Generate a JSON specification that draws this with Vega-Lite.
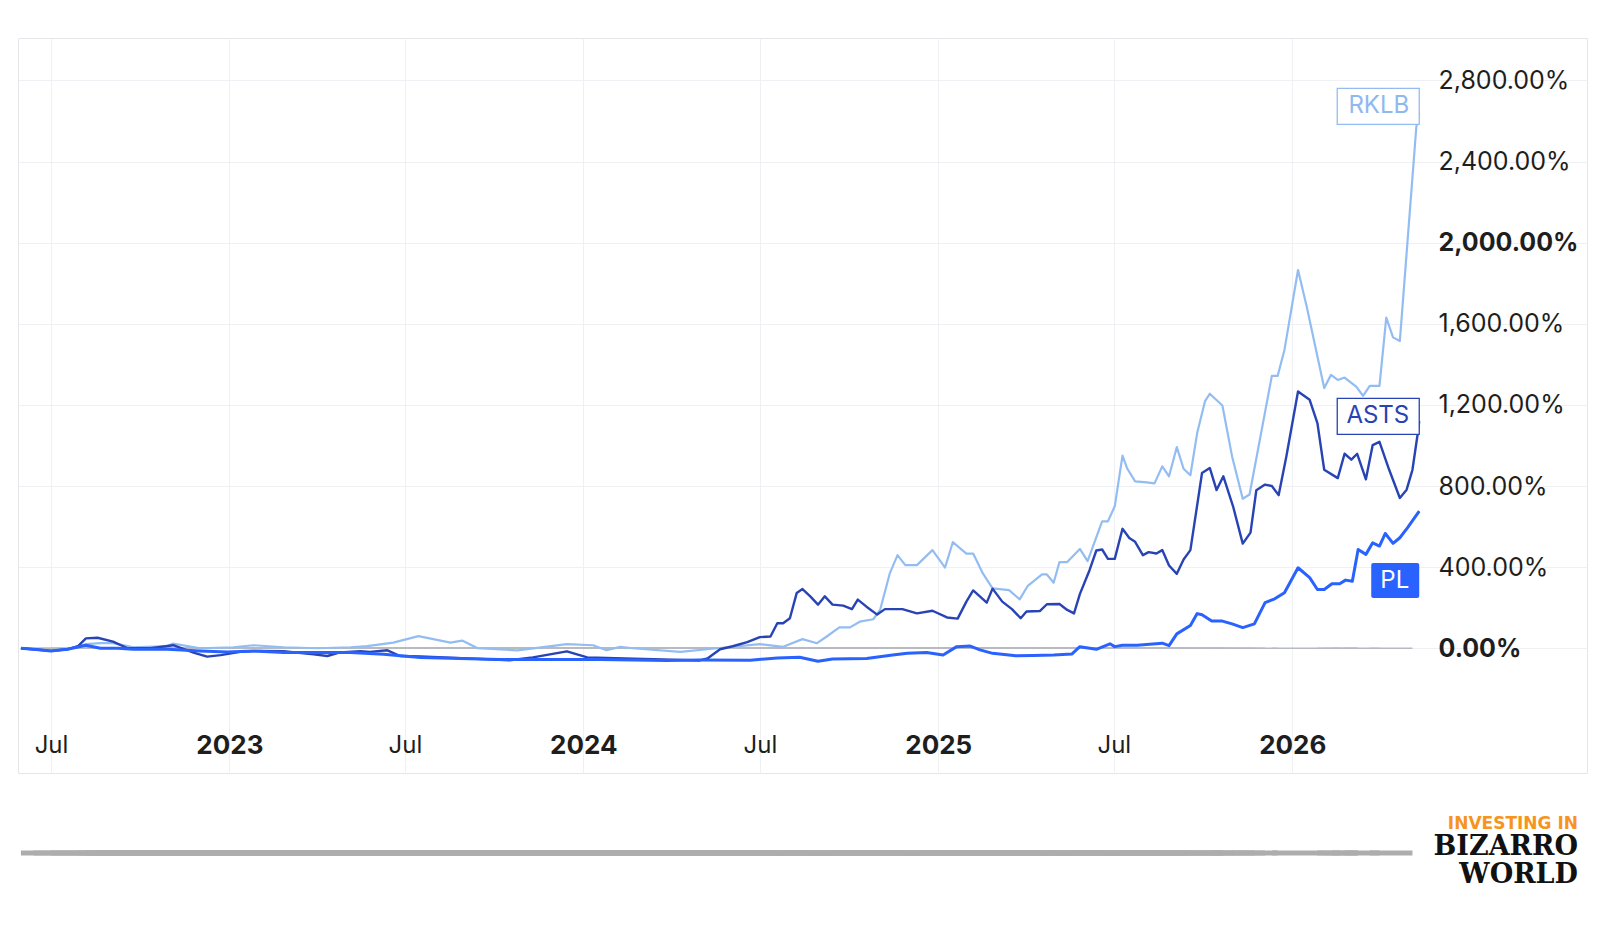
{
  "$schema": "https://vega.github.io/schema/vega-lite/v6.json",
  "width": 1569,
  "height": 735,
  "autosize": {"type": "none"},
  "padding": {"left": 18, "top": 38, "right": 21, "bottom": 163},
  "background": "white",
  "config": {
    "view": {"stroke": "#e4e6ea", "strokeWidth": 1},
    "font": "Inter"
  },
  "title": {
    "text": "INVESTING IN",
    "subtitle": ["BIZARRO", "WORLD"],
    "orient": "bottom",
    "anchor": "end",
    "frame": "group",
    "offset": -39,
    "dx": -9,
    "font": "DejaVu Sans",
    "fontSize": 17,
    "fontWeight": "bold",
    "color": "#f7941d",
    "subtitleFont": "DejaVu Serif",
    "subtitleFontSize": 27,
    "subtitleFontWeight": "bold",
    "subtitleColor": "#111111",
    "subtitleLineHeight": 28,
    "subtitlePadding": 1
  },
  "datasets": {
    "series": [
      {"d": "2022-05-31", "s": "RKLB", "v": 0},
      {"d": "2022-06-13", "s": "RKLB", "v": -5},
      {"d": "2022-07-01", "s": "RKLB", "v": -13},
      {"d": "2022-07-18", "s": "RKLB", "v": -5},
      {"d": "2022-07-29", "s": "RKLB", "v": 11},
      {"d": "2022-08-06", "s": "RKLB", "v": 20},
      {"d": "2022-08-21", "s": "RKLB", "v": 25},
      {"d": "2022-09-03", "s": "RKLB", "v": 25},
      {"d": "2022-09-24", "s": "RKLB", "v": 5},
      {"d": "2022-10-29", "s": "RKLB", "v": 11},
      {"d": "2022-11-04", "s": "RKLB", "v": 23},
      {"d": "2022-12-02", "s": "RKLB", "v": 0},
      {"d": "2023-01-05", "s": "RKLB", "v": 5},
      {"d": "2023-01-26", "s": "RKLB", "v": 15},
      {"d": "2023-02-26", "s": "RKLB", "v": 5},
      {"d": "2023-04-02", "s": "RKLB", "v": 0},
      {"d": "2023-05-06", "s": "RKLB", "v": 5},
      {"d": "2023-05-23", "s": "RKLB", "v": 11},
      {"d": "2023-06-19", "s": "RKLB", "v": 28},
      {"d": "2023-07-03", "s": "RKLB", "v": 45},
      {"d": "2023-07-15", "s": "RKLB", "v": 60},
      {"d": "2023-08-17", "s": "RKLB", "v": 28},
      {"d": "2023-08-29", "s": "RKLB", "v": 38},
      {"d": "2023-09-14", "s": "RKLB", "v": 0},
      {"d": "2023-10-25", "s": "RKLB", "v": -10},
      {"d": "2023-12-15", "s": "RKLB", "v": 20},
      {"d": "2024-01-11", "s": "RKLB", "v": 15},
      {"d": "2024-01-25", "s": "RKLB", "v": -10},
      {"d": "2024-02-08", "s": "RKLB", "v": 7},
      {"d": "2024-02-21", "s": "RKLB", "v": 0},
      {"d": "2024-04-10", "s": "RKLB", "v": -18},
      {"d": "2024-05-18", "s": "RKLB", "v": 0},
      {"d": "2024-07-01", "s": "RKLB", "v": 20},
      {"d": "2024-07-25", "s": "RKLB", "v": 7},
      {"d": "2024-08-14", "s": "RKLB", "v": 45},
      {"d": "2024-08-29", "s": "RKLB", "v": 25},
      {"d": "2024-09-08", "s": "RKLB", "v": 58},
      {"d": "2024-09-21", "s": "RKLB", "v": 103},
      {"d": "2024-10-02", "s": "RKLB", "v": 103},
      {"d": "2024-10-12", "s": "RKLB", "v": 131},
      {"d": "2024-10-26", "s": "RKLB", "v": 143},
      {"d": "2024-11-02", "s": "RKLB", "v": 189},
      {"d": "2024-11-12", "s": "RKLB", "v": 369},
      {"d": "2024-11-20", "s": "RKLB", "v": 459},
      {"d": "2024-11-28", "s": "RKLB", "v": 410},
      {"d": "2024-12-10", "s": "RKLB", "v": 410},
      {"d": "2024-12-26", "s": "RKLB", "v": 484},
      {"d": "2025-01-08", "s": "RKLB", "v": 398},
      {"d": "2025-01-16", "s": "RKLB", "v": 523},
      {"d": "2025-01-30", "s": "RKLB", "v": 467},
      {"d": "2025-02-06", "s": "RKLB", "v": 467},
      {"d": "2025-02-16", "s": "RKLB", "v": 369},
      {"d": "2025-02-26", "s": "RKLB", "v": 295},
      {"d": "2025-03-15", "s": "RKLB", "v": 287},
      {"d": "2025-03-26", "s": "RKLB", "v": 241},
      {"d": "2025-04-03", "s": "RKLB", "v": 306},
      {"d": "2025-04-18", "s": "RKLB", "v": 364},
      {"d": "2025-04-23", "s": "RKLB", "v": 364},
      {"d": "2025-04-30", "s": "RKLB", "v": 323},
      {"d": "2025-05-06", "s": "RKLB", "v": 425},
      {"d": "2025-05-14", "s": "RKLB", "v": 425},
      {"d": "2025-05-27", "s": "RKLB", "v": 490},
      {"d": "2025-06-04", "s": "RKLB", "v": 430},
      {"d": "2025-06-19", "s": "RKLB", "v": 626},
      {"d": "2025-06-25", "s": "RKLB", "v": 626},
      {"d": "2025-07-02", "s": "RKLB", "v": 700},
      {"d": "2025-07-10", "s": "RKLB", "v": 950},
      {"d": "2025-07-15", "s": "RKLB", "v": 885},
      {"d": "2025-07-23", "s": "RKLB", "v": 823},
      {"d": "2025-08-04", "s": "RKLB", "v": 818},
      {"d": "2025-08-12", "s": "RKLB", "v": 813},
      {"d": "2025-08-20", "s": "RKLB", "v": 897},
      {"d": "2025-08-27", "s": "RKLB", "v": 848},
      {"d": "2025-09-04", "s": "RKLB", "v": 992},
      {"d": "2025-09-11", "s": "RKLB", "v": 885},
      {"d": "2025-09-18", "s": "RKLB", "v": 853},
      {"d": "2025-09-25", "s": "RKLB", "v": 1061},
      {"d": "2025-10-03", "s": "RKLB", "v": 1217},
      {"d": "2025-10-08", "s": "RKLB", "v": 1255},
      {"d": "2025-10-21", "s": "RKLB", "v": 1197},
      {"d": "2025-10-31", "s": "RKLB", "v": 946},
      {"d": "2025-11-11", "s": "RKLB", "v": 737},
      {"d": "2025-11-18", "s": "RKLB", "v": 758},
      {"d": "2025-11-28", "s": "RKLB", "v": 1012},
      {"d": "2025-12-11", "s": "RKLB", "v": 1343},
      {"d": "2025-12-17", "s": "RKLB", "v": 1343},
      {"d": "2025-12-24", "s": "RKLB", "v": 1471},
      {"d": "2026-01-07", "s": "RKLB", "v": 1865},
      {"d": "2026-01-16", "s": "RKLB", "v": 1684},
      {"d": "2026-02-03", "s": "RKLB", "v": 1283},
      {"d": "2026-02-10", "s": "RKLB", "v": 1348},
      {"d": "2026-02-17", "s": "RKLB", "v": 1323},
      {"d": "2026-02-24", "s": "RKLB", "v": 1335},
      {"d": "2026-03-08", "s": "RKLB", "v": 1290},
      {"d": "2026-03-15", "s": "RKLB", "v": 1245},
      {"d": "2026-03-22", "s": "RKLB", "v": 1294},
      {"d": "2026-04-01", "s": "RKLB", "v": 1294},
      {"d": "2026-04-08", "s": "RKLB", "v": 1630},
      {"d": "2026-04-15", "s": "RKLB", "v": 1533},
      {"d": "2026-04-22", "s": "RKLB", "v": 1515},
      {"d": "2026-05-09", "s": "RKLB", "v": 2570},
      {"d": "2026-05-12", "s": "RKLB", "v": 2640},

      {"d": "2022-05-31", "s": "ASTS", "v": 0},
      {"d": "2022-06-13", "s": "ASTS", "v": -5},
      {"d": "2022-07-01", "s": "ASTS", "v": -13},
      {"d": "2022-07-18", "s": "ASTS", "v": -5},
      {"d": "2022-07-29", "s": "ASTS", "v": 11},
      {"d": "2022-08-06", "s": "ASTS", "v": 49},
      {"d": "2022-08-18", "s": "ASTS", "v": 52},
      {"d": "2022-09-03", "s": "ASTS", "v": 33},
      {"d": "2022-09-18", "s": "ASTS", "v": 0},
      {"d": "2022-10-12", "s": "ASTS", "v": 0},
      {"d": "2022-11-04", "s": "ASTS", "v": 15},
      {"d": "2022-11-25", "s": "ASTS", "v": -21},
      {"d": "2022-12-09", "s": "ASTS", "v": -41},
      {"d": "2022-12-23", "s": "ASTS", "v": -34},
      {"d": "2023-01-12", "s": "ASTS", "v": -18},
      {"d": "2023-02-02", "s": "ASTS", "v": -13},
      {"d": "2023-02-26", "s": "ASTS", "v": -15},
      {"d": "2023-03-29", "s": "ASTS", "v": -30},
      {"d": "2023-04-12", "s": "ASTS", "v": -38},
      {"d": "2023-04-25", "s": "ASTS", "v": -20},
      {"d": "2023-05-16", "s": "ASTS", "v": -15},
      {"d": "2023-05-26", "s": "ASTS", "v": -18},
      {"d": "2023-06-13", "s": "ASTS", "v": -10},
      {"d": "2023-06-26", "s": "ASTS", "v": -38},
      {"d": "2023-07-17", "s": "ASTS", "v": -40},
      {"d": "2023-10-17", "s": "ASTS", "v": -59},
      {"d": "2023-11-10", "s": "ASTS", "v": -45},
      {"d": "2023-12-15", "s": "ASTS", "v": -15},
      {"d": "2024-01-05", "s": "ASTS", "v": -45},
      {"d": "2024-04-30", "s": "ASTS", "v": -60},
      {"d": "2024-05-08", "s": "ASTS", "v": -50},
      {"d": "2024-05-21", "s": "ASTS", "v": -5},
      {"d": "2024-06-03", "s": "ASTS", "v": 10},
      {"d": "2024-06-18", "s": "ASTS", "v": 30},
      {"d": "2024-07-01", "s": "ASTS", "v": 55},
      {"d": "2024-07-12", "s": "ASTS", "v": 58},
      {"d": "2024-07-19", "s": "ASTS", "v": 123},
      {"d": "2024-07-25", "s": "ASTS", "v": 123},
      {"d": "2024-08-01", "s": "ASTS", "v": 148},
      {"d": "2024-08-08", "s": "ASTS", "v": 272},
      {"d": "2024-08-14", "s": "ASTS", "v": 292},
      {"d": "2024-08-22", "s": "ASTS", "v": 256},
      {"d": "2024-08-30", "s": "ASTS", "v": 215},
      {"d": "2024-09-06", "s": "ASTS", "v": 256},
      {"d": "2024-09-14", "s": "ASTS", "v": 215},
      {"d": "2024-09-25", "s": "ASTS", "v": 210},
      {"d": "2024-10-04", "s": "ASTS", "v": 193},
      {"d": "2024-10-10", "s": "ASTS", "v": 240},
      {"d": "2024-10-19", "s": "ASTS", "v": 205},
      {"d": "2024-10-30", "s": "ASTS", "v": 166},
      {"d": "2024-11-07", "s": "ASTS", "v": 193},
      {"d": "2024-11-25", "s": "ASTS", "v": 193},
      {"d": "2024-12-10", "s": "ASTS", "v": 172},
      {"d": "2024-12-26", "s": "ASTS", "v": 185},
      {"d": "2025-01-10", "s": "ASTS", "v": 152},
      {"d": "2025-01-21", "s": "ASTS", "v": 146},
      {"d": "2025-01-30", "s": "ASTS", "v": 230},
      {"d": "2025-02-06", "s": "ASTS", "v": 285},
      {"d": "2025-02-20", "s": "ASTS", "v": 225},
      {"d": "2025-02-26", "s": "ASTS", "v": 294},
      {"d": "2025-03-08", "s": "ASTS", "v": 230},
      {"d": "2025-03-18", "s": "ASTS", "v": 193},
      {"d": "2025-03-27", "s": "ASTS", "v": 148},
      {"d": "2025-04-02", "s": "ASTS", "v": 181},
      {"d": "2025-04-16", "s": "ASTS", "v": 184},
      {"d": "2025-04-23", "s": "ASTS", "v": 217},
      {"d": "2025-05-06", "s": "ASTS", "v": 218},
      {"d": "2025-05-14", "s": "ASTS", "v": 189},
      {"d": "2025-05-21", "s": "ASTS", "v": 172},
      {"d": "2025-05-27", "s": "ASTS", "v": 267},
      {"d": "2025-06-06", "s": "ASTS", "v": 385},
      {"d": "2025-06-13", "s": "ASTS", "v": 482},
      {"d": "2025-06-19", "s": "ASTS", "v": 487},
      {"d": "2025-06-25", "s": "ASTS", "v": 441},
      {"d": "2025-07-02", "s": "ASTS", "v": 441},
      {"d": "2025-07-10", "s": "ASTS", "v": 589},
      {"d": "2025-07-17", "s": "ASTS", "v": 544},
      {"d": "2025-07-23", "s": "ASTS", "v": 525},
      {"d": "2025-07-31", "s": "ASTS", "v": 459},
      {"d": "2025-08-06", "s": "ASTS", "v": 474},
      {"d": "2025-08-14", "s": "ASTS", "v": 467},
      {"d": "2025-08-20", "s": "ASTS", "v": 484},
      {"d": "2025-08-27", "s": "ASTS", "v": 408},
      {"d": "2025-09-04", "s": "ASTS", "v": 367},
      {"d": "2025-09-11", "s": "ASTS", "v": 438},
      {"d": "2025-09-18", "s": "ASTS", "v": 484},
      {"d": "2025-09-30", "s": "ASTS", "v": 864},
      {"d": "2025-10-08", "s": "ASTS", "v": 889},
      {"d": "2025-10-15", "s": "ASTS", "v": 780},
      {"d": "2025-10-22", "s": "ASTS", "v": 848},
      {"d": "2025-11-01", "s": "ASTS", "v": 700},
      {"d": "2025-11-11", "s": "ASTS", "v": 516},
      {"d": "2025-11-19", "s": "ASTS", "v": 570},
      {"d": "2025-11-25", "s": "ASTS", "v": 779},
      {"d": "2025-12-04", "s": "ASTS", "v": 807},
      {"d": "2025-12-11", "s": "ASTS", "v": 800},
      {"d": "2025-12-18", "s": "ASTS", "v": 755},
      {"d": "2025-12-26", "s": "ASTS", "v": 947},
      {"d": "2026-01-07", "s": "ASTS", "v": 1266},
      {"d": "2026-01-19", "s": "ASTS", "v": 1225},
      {"d": "2026-01-27", "s": "ASTS", "v": 1110},
      {"d": "2026-02-03", "s": "ASTS", "v": 880},
      {"d": "2026-02-17", "s": "ASTS", "v": 839},
      {"d": "2026-02-24", "s": "ASTS", "v": 959},
      {"d": "2026-03-03", "s": "ASTS", "v": 930},
      {"d": "2026-03-09", "s": "ASTS", "v": 959},
      {"d": "2026-03-18", "s": "ASTS", "v": 833},
      {"d": "2026-03-25", "s": "ASTS", "v": 1002},
      {"d": "2026-04-01", "s": "ASTS", "v": 1018},
      {"d": "2026-04-11", "s": "ASTS", "v": 880},
      {"d": "2026-04-22", "s": "ASTS", "v": 741},
      {"d": "2026-04-29", "s": "ASTS", "v": 782},
      {"d": "2026-05-05", "s": "ASTS", "v": 880},
      {"d": "2026-05-10", "s": "ASTS", "v": 1044},
      {"d": "2026-05-12", "s": "ASTS", "v": 1120},

      {"d": "2022-05-31", "s": "PL", "v": 0},
      {"d": "2022-06-13", "s": "PL", "v": -5},
      {"d": "2022-07-01", "s": "PL", "v": -13},
      {"d": "2022-07-18", "s": "PL", "v": -5},
      {"d": "2022-08-06", "s": "PL", "v": 15},
      {"d": "2022-08-21", "s": "PL", "v": 0},
      {"d": "2022-09-08", "s": "PL", "v": 0},
      {"d": "2022-09-24", "s": "PL", "v": -5},
      {"d": "2022-10-29", "s": "PL", "v": -5},
      {"d": "2022-12-02", "s": "PL", "v": -13},
      {"d": "2022-12-30", "s": "PL", "v": -18},
      {"d": "2023-01-26", "s": "PL", "v": -13},
      {"d": "2023-02-26", "s": "PL", "v": -21},
      {"d": "2023-05-06", "s": "PL", "v": -21},
      {"d": "2023-06-09", "s": "PL", "v": -30},
      {"d": "2023-07-17", "s": "PL", "v": -46},
      {"d": "2023-10-07", "s": "PL", "v": -55},
      {"d": "2024-01-18", "s": "PL", "v": -55},
      {"d": "2024-03-27", "s": "PL", "v": -60},
      {"d": "2024-04-30", "s": "PL", "v": -58},
      {"d": "2024-06-21", "s": "PL", "v": -59},
      {"d": "2024-07-19", "s": "PL", "v": -48},
      {"d": "2024-08-11", "s": "PL", "v": -44},
      {"d": "2024-08-30", "s": "PL", "v": -64},
      {"d": "2024-09-14", "s": "PL", "v": -53},
      {"d": "2024-10-19", "s": "PL", "v": -50},
      {"d": "2024-11-15", "s": "PL", "v": -33},
      {"d": "2024-11-30", "s": "PL", "v": -25},
      {"d": "2024-12-20", "s": "PL", "v": -21},
      {"d": "2025-01-06", "s": "PL", "v": -33},
      {"d": "2025-01-20", "s": "PL", "v": 8},
      {"d": "2025-02-03", "s": "PL", "v": 11},
      {"d": "2025-02-13", "s": "PL", "v": -8},
      {"d": "2025-02-26", "s": "PL", "v": -25},
      {"d": "2025-03-22", "s": "PL", "v": -37},
      {"d": "2025-04-09", "s": "PL", "v": -36},
      {"d": "2025-04-30", "s": "PL", "v": -33},
      {"d": "2025-05-19", "s": "PL", "v": -28},
      {"d": "2025-05-27", "s": "PL", "v": 8},
      {"d": "2025-06-13", "s": "PL", "v": -5},
      {"d": "2025-06-27", "s": "PL", "v": 22},
      {"d": "2025-07-02", "s": "PL", "v": 8},
      {"d": "2025-07-10", "s": "PL", "v": 15},
      {"d": "2025-07-25", "s": "PL", "v": 15},
      {"d": "2025-08-07", "s": "PL", "v": 20},
      {"d": "2025-08-20", "s": "PL", "v": 25},
      {"d": "2025-08-27", "s": "PL", "v": 13},
      {"d": "2025-09-04", "s": "PL", "v": 71},
      {"d": "2025-09-18", "s": "PL", "v": 112},
      {"d": "2025-09-25", "s": "PL", "v": 171},
      {"d": "2025-09-30", "s": "PL", "v": 165},
      {"d": "2025-10-10", "s": "PL", "v": 134},
      {"d": "2025-10-21", "s": "PL", "v": 134},
      {"d": "2025-10-31", "s": "PL", "v": 120},
      {"d": "2025-11-11", "s": "PL", "v": 102},
      {"d": "2025-11-23", "s": "PL", "v": 120},
      {"d": "2025-12-04", "s": "PL", "v": 225},
      {"d": "2025-12-14", "s": "PL", "v": 244},
      {"d": "2025-12-24", "s": "PL", "v": 274},
      {"d": "2026-01-07", "s": "PL", "v": 397},
      {"d": "2026-01-19", "s": "PL", "v": 348},
      {"d": "2026-01-27", "s": "PL", "v": 290},
      {"d": "2026-02-03", "s": "PL", "v": 290},
      {"d": "2026-02-11", "s": "PL", "v": 318},
      {"d": "2026-02-19", "s": "PL", "v": 318},
      {"d": "2026-02-25", "s": "PL", "v": 336},
      {"d": "2026-03-04", "s": "PL", "v": 330},
      {"d": "2026-03-10", "s": "PL", "v": 487},
      {"d": "2026-03-18", "s": "PL", "v": 463},
      {"d": "2026-03-25", "s": "PL", "v": 520},
      {"d": "2026-04-01", "s": "PL", "v": 504},
      {"d": "2026-04-07", "s": "PL", "v": 566},
      {"d": "2026-04-15", "s": "PL", "v": 517},
      {"d": "2026-04-22", "s": "PL", "v": 545},
      {"d": "2026-04-30", "s": "PL", "v": 595},
      {"d": "2026-05-12", "s": "PL", "v": 676}
    ],
    "labels": [
      {"d": "2026-05-12", "s": "RKLB", "v": 2672},
      {"d": "2026-05-12", "s": "ASTS", "v": 1143},
      {"d": "2026-05-12", "s": "PL", "v": 334}
    ]
  },
  "encoding": {
    "x": {
      "field": "d",
      "type": "temporal",
      "scale": {
        "type": "utc",
        "domain": [
          {"year": 2022, "month": 5, "date": 28, "utc": true},
          {"year": 2026, "month": 11, "date": 1, "utc": true}
        ]
      },
      "axis": {
        "title": null,
        "values": [
          {"year": 2022, "month": 7, "date": 1, "utc": true},
          {"year": 2023, "month": 1, "date": 1, "utc": true},
          {"year": 2023, "month": 7, "date": 1, "utc": true},
          {"year": 2024, "month": 1, "date": 1, "utc": true},
          {"year": 2024, "month": 7, "date": 1, "utc": true},
          {"year": 2025, "month": 1, "date": 1, "utc": true},
          {"year": 2025, "month": 7, "date": 1, "utc": true},
          {"year": 2026, "month": 1, "date": 1, "utc": true}
        ],
        "labelExpr": "utcmonth(datum.value) == 0 ? utcFormat(datum.value, '%Y') : 'Jul'",
        "labelFontWeight": {"condition": {"test": "utcmonth(datum.value) == 0", "value": "bold"}, "value": "normal"},
        "labelFontSize": {"condition": {"test": "utcmonth(datum.value) == 0", "value": 26}, "value": 24},
        "labelFont": "Inter",
        "labelColor": "#1e1e1e",
        "labelOverlap": false,
        "labelFlush": false,
        "labelBaseline": "middle",
        "labelPadding": 0,
        "ticks": false,
        "domain": false,
        "grid": true,
        "gridColor": "#eef0f3",
        "gridWidth": 1,
        "offset": -28
      }
    },
    "y": {
      "field": "v",
      "type": "quantitative",
      "scale": {"domain": [-615, 3009], "nice": false, "zero": false},
      "axis": {
        "title": null,
        "orient": "right",
        "values": [0, 400, 800, 1200, 1600, 2000, 2400, 2800],
        "labelExpr": "format(datum.value, ',.2f') + '%'",
        "labelFontWeight": {"condition": {"test": "datum.value == 0 || datum.value == 2000", "value": "bold"}, "value": "normal"},
        "labelFont": "Inter",
        "labelFontSize": 25,
        "labelColor": "#1e1e1e",
        "labelAlign": "left",
        "labelBaseline": "middle",
        "labelPadding": 18,
        "labelOverlap": false,
        "labelFlush": false,
        "ticks": false,
        "domain": false,
        "grid": true,
        "gridColor": "#eef0f3",
        "gridWidth": 1,
        "offset": -167
      }
    }
  },
  "layer": [
    {
      "data": {"name": "series"},
      "mark": {"type": "rule", "color": "#b7bac1", "strokeWidth": 1.3},
      "encoding": {
        "x": {"aggregate": "min", "field": "d", "type": "temporal"},
        "x2": {"aggregate": "max", "field": "d"},
        "y": {"datum": 0}
      }
    },
    {
      "data": {"name": "series"},
      "mark": {"type": "rule", "color": "#adadad", "strokeWidth": 5, "clip": false},
      "encoding": {
        "x": {"aggregate": "min", "field": "d", "type": "temporal"},
        "x2": {"aggregate": "max", "field": "d"},
        "y": {"datum": -1009}
      }
    },
    {
      "data": {"name": "series"},
      "transform": [{"filter": "datum.s == 'RKLB'"}],
      "mark": {"type": "line", "color": "#93bdf2", "strokeWidth": 2.2, "strokeJoin": "round"}
    },
    {
      "data": {"name": "series"},
      "transform": [{"filter": "datum.s == 'ASTS'"}],
      "mark": {"type": "line", "color": "#2743b4", "strokeWidth": 2.4, "strokeJoin": "round"}
    },
    {
      "data": {"name": "series"},
      "transform": [{"filter": "datum.s == 'PL'"}],
      "mark": {"type": "line", "color": "#2962ff", "strokeWidth": 3, "strokeJoin": "round"}
    },
    {
      "data": {"name": "labels"},
      "transform": [{"filter": "datum.s != 'PL'"}],
      "mark": {"type": "rect", "width": 82, "height": 36, "xOffset": -41, "fill": "white", "strokeWidth": 1.3},
      "encoding": {
        "stroke": {"field": "s", "type": "nominal", "scale": {"domain": ["RKLB", "ASTS"], "range": ["#93bdf2", "#2743b4"]}, "legend": null}
      }
    },
    {
      "data": {"name": "labels"},
      "transform": [{"filter": "datum.s == 'PL'"}],
      "mark": {"type": "rect", "width": 48, "height": 35, "xOffset": -24, "fill": "#2962ff", "cornerRadius": 2}
    },
    {
      "data": {"name": "labels"},
      "mark": {"type": "text", "align": "right", "baseline": "middle", "xOffset": -10, "font": "Inter", "fontSize": 24},
      "encoding": {
        "text": {"field": "s"},
        "color": {"field": "s", "type": "nominal", "scale": {"domain": ["RKLB", "ASTS", "PL"], "range": ["#8fb8ef", "#2743b4", "#ffffff"]}, "legend": null}
      }
    }
  ]
}
